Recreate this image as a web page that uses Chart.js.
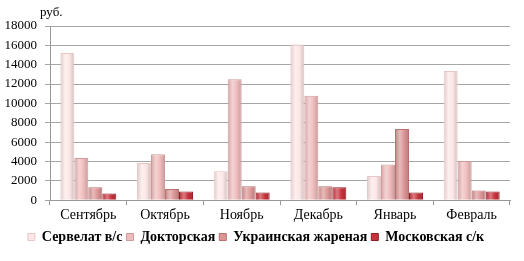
<!DOCTYPE html>
<html>
<head>
<meta charset="utf-8">
<script src="https://cdn.jsdelivr.net/npm/chart.js@4"></script>
<style>
  html, body { margin: 0; padding: 0; background: #fff; }
  #wrap { width: 524px; height: 261px; }
</style>
</head>
<body>
<div id="wrap"><canvas id="chart" width="524" height="261"></canvas></div>
<script>
const months = ['Сентябрь', 'Октябрь', 'Ноябрь', 'Декабрь', 'Январь', 'Февраль'];
const seriesNames = ['Сервелат в/с', 'Докторская', 'Украинская жареная', 'Московская с/к'];
const servelat = [15200, 3850, 3000, 16100, 2500, 13350];
const doktorskaya = [4350, 4750, 12500, 10800, 3700, 4050];
const ukrainskaya = [1350, 1150, 1450, 1450, 7350, 1000];
const moskovskaya = [700, 900, 800, 1350, 800, 900];
const yTicks = [0, 2000, 4000, 6000, 8000, 10000, 12000, 14000, 16000, 18000];

const fills = ['#fde6e6', '#efbcbc', '#dc9696', '#c8323c'];
const edges = ['#e9c7c7', '#cf9a9a', '#b87070', '#8f1c24'];
const catPct = 0.73;
const serif = 'Liberation Serif, Times New Roman, serif';

function shade(hex, amt) {
    var n = parseInt(hex.slice(1), 16);
    var r = (n >> 16) & 255, g = (n >> 8) & 255, b = n & 255;
    var f = c => Math.max(0, Math.min(255, Math.round(amt > 0 ? c + (255 - c) * amt : c * (1 + amt))));
    return 'rgb(' + f(r) + ',' + f(g) + ',' + f(b) + ')';
}

function barFill(context) {
    var chart = context.chart;
    var xs = chart.scales.x;
    var i = context.datasetIndex;
    var base = fills[i];
    if (!xs || context.dataIndex === undefined) return base;
    var catW = xs.width / months.length;
    var bw = catW * catPct / 4;
    var cx = xs.getPixelForValue(context.dataIndex) + (i - 1.5) * bw;
    var g = chart.ctx.createLinearGradient(cx - bw / 2, 0, cx + bw / 2, 0);
    g.addColorStop(0, shade(base, -0.12));
    g.addColorStop(0.35, shade(base, 0.35));
    g.addColorStop(0.65, base);
    g.addColorStop(1, shade(base, -0.18));
    return g;
}

const unitLabel = {
    id: 'unitLabel',
    afterDraw(chart) {
        const c = chart.ctx;
        c.save();
        c.font = '13px ' + serif;
        c.fillStyle = '#000';
        c.textBaseline = 'middle';
        c.fillText('руб.', chart.chartArea.left - 10, 13);
        c.restore();
    }
};

const data = [servelat, doktorskaya, ukrainskaya, moskovskaya];

new Chart(document.getElementById('chart').getContext('2d'), {
    type: 'bar',
    data: {
        labels: months,
        datasets: seriesNames.map((name, i) => ({
            label: name,
            data: data[i],
            backgroundColor: barFill,
            borderColor: edges[i],
            borderWidth: 1,
            categoryPercentage: catPct,
            barPercentage: 1
        }))
    },
    options: {
        responsive: false,
        animation: false,
        layout: { padding: { left: 2, right: 14, top: 26, bottom: 7 } },
        scales: {
            x: {
                grid: { display: true, drawOnChartArea: false, offset: true, color: '#999', tickLength: 5 },
                border: { color: '#999' },
                ticks: { color: '#000', font: { family: serif, size: 14 }, padding: 2 }
            },
            y: {
                min: 0,
                max: 18000,
                afterFit(scale) { scale.width = 48; },
                afterBuildTicks(scale) { scale.ticks = yTicks.map(v => ({ value: v })); },
                grid: { color: '#a6a6a6', tickLength: 5 },
                border: { color: '#999' },
                ticks: {
                    autoSkip: false,
                    color: '#000',
                    font: { family: serif, size: 13 },
                    padding: 8,
                    callback: v => String(v)
                }
            }
        },
        plugins: {
            legend: {
                position: 'bottom',
                labels: {
                    color: '#000',
                    boxWidth: 7,
                    boxHeight: 7,
                    padding: 4,
                    font: { family: serif, size: 14, weight: 'bold' },
                    generateLabels(chart) {
                        return seriesNames.map((name, i) => ({
                            text: name,
                            fillStyle: fills[i],
                            strokeStyle: edges[i],
                            lineWidth: 1,
                            datasetIndex: i
                        }));
                    }
                }
            },
            tooltip: { enabled: false }
        }
    },
    plugins: [unitLabel]
});
</script>
</body>
</html>
